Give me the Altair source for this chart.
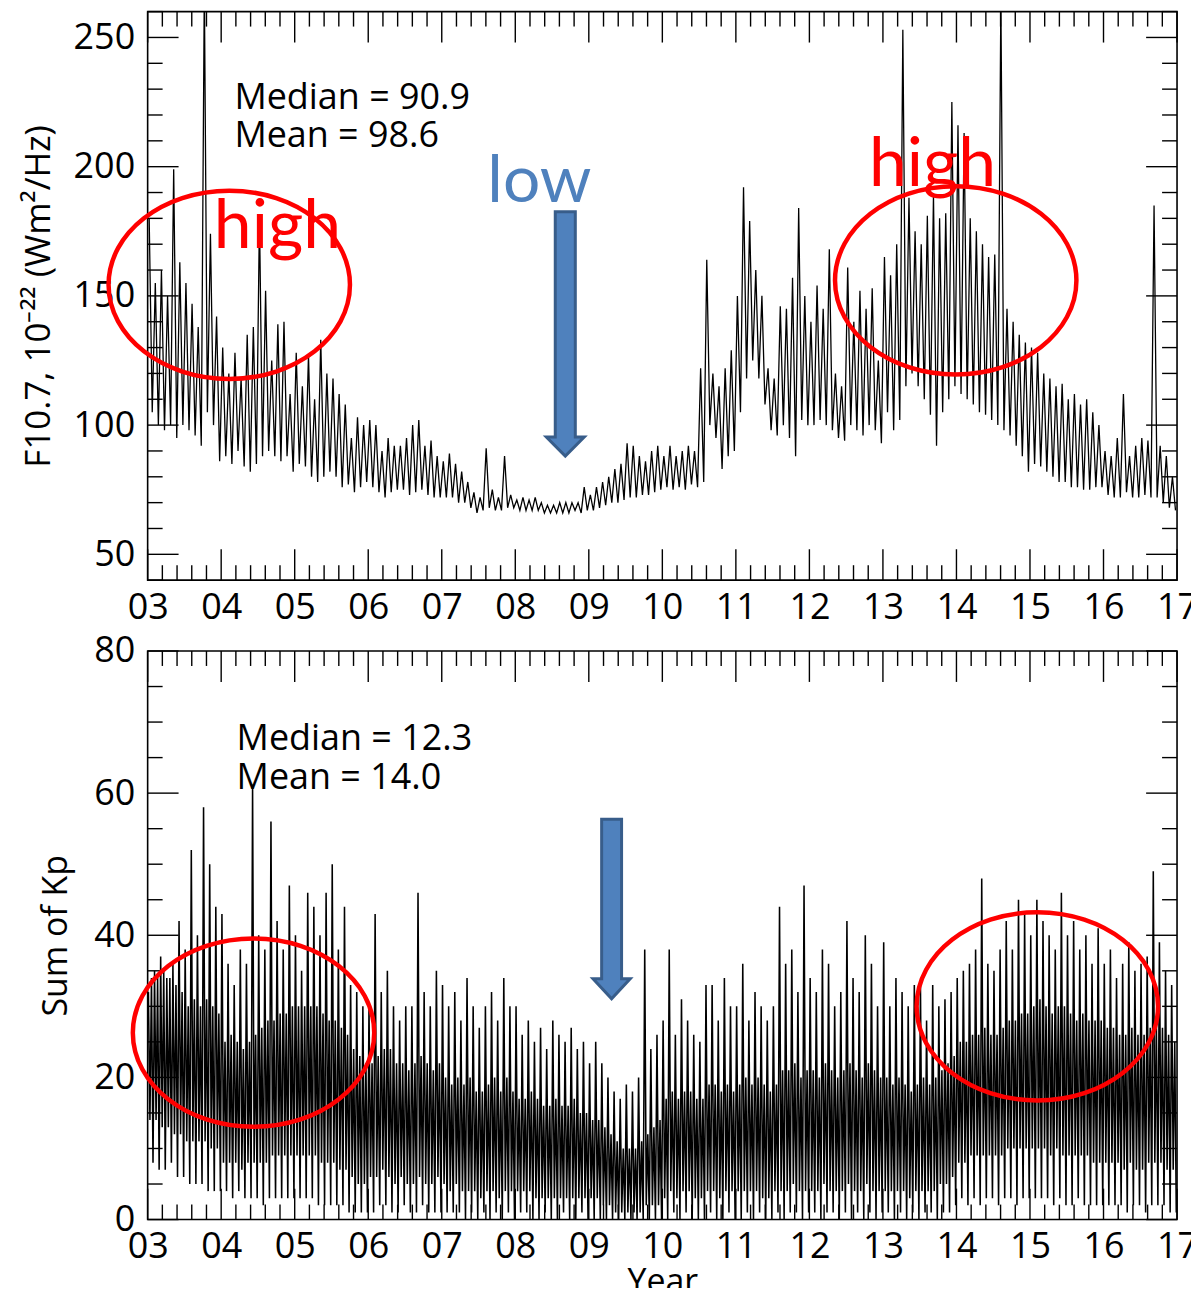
import json
import altair as alt
import pandas as pd

# ---------------- data ----------------
YEAR0 = 2003
YEARS = list(range(2003, 2018))
X_LABELS = ["03", "04", "05", "06", "07", "08", "09", "10", "11", "12", "13", "14", "15", "16", "17"]

# F10.7 monthly maximum and minimum (Jan 2003 .. Dec 2016), one row per year
f107_hi = [
    180, 155, 160, 150, 199, 163, 155, 147, 138, 270, 174, 142,
    130, 120, 128, 118, 135, 138, 181, 152, 125, 139, 140, 112,
    128, 115, 127, 110, 133, 120, 118, 112, 108, 95, 103, 100,
    102, 100, 90, 95, 92, 92, 95, 100, 102, 92, 94, 88,
    86, 89, 85, 82, 78, 74, 72, 91, 75, 72, 88, 73,
    71, 72, 71, 72, 70, 69, 69, 70, 70, 70, 70, 76,
    73, 76, 78, 80, 83, 85, 93, 92, 88, 86, 90, 92,
    88, 92, 88, 90, 92, 90, 122, 164, 120, 115, 122, 129,
    150, 192, 179, 160, 150, 122, 118, 146, 145, 157, 184, 150,
    140, 154, 145, 168, 120, 115, 161, 140, 152, 145, 153, 125,
    165, 158, 170, 253, 188, 175, 170, 181, 189, 180, 182, 225,
    216, 213, 180, 175, 170, 165, 166, 265, 145, 140, 135, 132,
    130, 128, 120, 118, 115, 116, 110, 112, 108, 110, 105, 100,
    90, 88, 95, 112, 88, 92, 95, 94, 185, 92, 88, 80,
]
f107_lo = [
    105, 100, 98, 100, 95, 100, 98, 96, 92, 105, 100, 86,
    88, 85, 90, 84, 82, 85, 88, 90, 88, 86, 88, 82,
    85, 84, 80, 78, 80, 82, 80, 76, 77, 74, 76, 78,
    76, 74, 72, 74, 75, 75, 73, 74, 75, 73, 72, 72,
    72, 72, 70, 70, 68, 66, 67, 68, 67, 67, 68, 68,
    67, 67, 67, 67, 66, 66, 66, 66, 66, 67, 66, 67,
    67, 68, 69, 70, 70, 71, 72, 72, 73, 73, 74, 75,
    76, 75, 76, 75, 77, 76, 78, 100, 95, 83, 88, 90,
    105, 118, 125, 118, 108, 98, 96, 100, 95, 88, 102, 100,
    100, 102, 100, 98, 95, 94, 100, 98, 96, 100, 98, 93,
    105, 98, 102, 115, 120, 115, 110, 104, 92, 105, 110, 115,
    112, 110, 108, 105, 104, 102, 100, 98, 96, 92, 88, 82,
    85, 84, 82, 80, 78, 78, 76, 76, 75, 75, 76, 76,
    73, 72, 72, 74, 72, 72, 73, 72, 72, 70, 68, 67,
]

# Sum of Kp per month: spike maximum, top of dense band, bottom of dense band, spike minimum
kp_max = [
    32, 35, 37, 34, 36, 42, 38, 52, 40, 58, 50, 44,
    43, 36, 33, 38, 36, 61, 40, 38, 56, 42, 38, 47,
    40, 35, 46, 44, 40, 46, 50, 38, 44, 33, 32, 30,
    30, 43, 32, 35, 30, 28, 30, 30, 46, 32, 30, 35,
    33, 30, 32, 28, 34, 30, 27, 30, 32, 28, 34, 30,
    30, 26, 28, 25, 27, 24, 28, 26, 25, 27, 24, 25,
    22, 25, 22, 20, 18, 17, 19, 18, 20, 38, 24, 26,
    28, 38, 26, 31, 28, 26, 25, 33, 33, 28, 34, 30,
    30, 36, 28, 32, 30, 28, 30, 44, 36, 38, 32, 47,
    34, 32, 38, 36, 30, 32, 42, 34, 32, 40, 36, 30,
    39, 30, 34, 32, 30, 33, 33, 28, 33, 30, 31, 32,
    34, 35, 36, 38, 48, 36, 35, 38, 42, 38, 45, 43,
    40, 45, 42, 40, 38, 46, 40, 42, 38, 40, 36, 41,
    36, 38, 34, 36, 39, 35, 36, 37, 49, 39, 35, 33,
]
kp_hi = [
    34, 34, 35, 34, 33, 32, 30, 31, 30, 31, 30, 29,
    25, 26, 25, 24, 25, 26, 27, 28, 28, 29, 29, 30,
    30, 30, 30, 30, 29, 28, 28, 27, 26, 24, 23, 22,
    22, 23, 24, 24, 22, 22, 21, 22, 23, 22, 21, 22,
    20, 19, 20, 19, 20, 18, 18, 19, 20, 18, 20, 18,
    17, 17, 18, 17, 16, 16, 17, 16, 16, 17, 15, 15,
    14, 14, 13, 12, 11, 10, 10, 10, 11, 12, 13, 14,
    17, 18, 17, 18, 18, 17, 17, 19, 19, 18, 19, 18,
    19, 20, 19, 20, 19, 18, 19, 21, 21, 22, 20, 21,
    21, 20, 22, 21, 20, 21, 22, 21, 20, 22, 21, 20,
    20, 19, 20, 19, 18, 19, 20, 19, 20, 21, 22, 23,
    25, 25, 26, 26, 27, 26, 26, 27, 28, 28, 29, 29,
    30, 31, 30, 29, 30, 30, 29, 28, 29, 28, 28, 28,
    27, 27, 26, 26, 27, 26, 26, 27, 28, 27, 26, 25,
]
kp_lo = [
    14, 14, 13, 13, 12, 12, 11, 11, 11, 11, 10, 10,
    8, 8, 8, 7, 8, 8, 8, 8, 9, 9, 9, 9,
    9, 9, 9, 9, 8, 8, 8, 7, 7, 6, 5, 5,
    6, 6, 7, 6, 5, 6, 5, 5, 6, 5, 5, 6,
    5, 4, 5, 4, 4, 4, 3, 4, 4, 3, 4, 4,
    4, 4, 4, 3, 3, 3, 3, 3, 3, 3, 3, 3,
    3, 3, 2, 2, 1, 1, 1, 1, 1, 2, 2, 2,
    3, 4, 3, 4, 4, 3, 3, 4, 4, 3, 4, 4,
    4, 4, 4, 4, 3, 3, 4, 4, 4, 5, 4, 4,
    4, 4, 5, 4, 4, 4, 5, 4, 4, 5, 4, 4,
    4, 4, 4, 4, 3, 4, 4, 4, 4, 5, 5, 6,
    8, 8, 9, 9, 9, 9, 9, 9, 10, 10, 10, 10,
    10, 10, 10, 9, 10, 9, 9, 9, 9, 9, 8, 8,
    8, 8, 8, 7, 8, 7, 7, 8, 8, 8, 7, 7,
]
kp_min = [
    8, 7, 7, 8, 6, 6, 5, 5, 5, 4, 4, 4,
    4, 3, 4, 3, 3, 3, 2, 3, 3, 3, 3, 3,
    3, 3, 3, 2, 2, 2, 2, 2, 1, 1, 1, 1,
    1, 2, 2, 1, 1, 2, 1, 1, 2, 1, 1, 1,
    1, 1, 1, 0, 1, 0, 1, 0, 1, 0, 1, 0,
    1, 1, 0, 0, 1, 0, 0, 1, 0, 0, 1, 0,
    0, 0, 0, 0, 0, 0, 0, 0, 0, 0, 0, 0,
    0, 1, 0, 1, 0, 0, 0, 1, 0, 0, 1, 0,
    0, 1, 0, 1, 0, 0, 1, 0, 1, 1, 0, 1,
    1, 0, 1, 1, 0, 1, 0, 1, 0, 1, 0, 1,
    1, 0, 1, 0, 1, 0, 1, 1, 0, 1, 1, 2,
    3, 2, 3, 2, 3, 3, 2, 3, 3, 2, 3, 3,
    3, 3, 3, 2, 3, 2, 2, 3, 2, 2, 2, 2,
    2, 2, 2, 1, 2, 2, 1, 2, 2, 2, 1, 1,
]

# annotations (data coordinates)
top_stats = ["Median = 90.9", "Mean = 98.6"]
top_stats_t = [2004.18, 2004.18]
top_stats_v = [222.5, 207.8]
bot_stats = ["Median = 12.3", "Mean = 14.0"]
bot_stats_t = [2004.21, 2004.21]
bot_stats_v = [66.1, 60.6]

top_high_text = ["high", "high"]
top_high_t = [2003.90, 2012.81]
top_high_v = [168.5, 192.5]
top_low_text = ["low"]
top_low_t = [2007.62]
top_low_v = [186.3]

top_ell_t = [2004.11, 2013.99]
top_ell_v = [154.3, 156.0]
bot_ell_t = [2004.44, 2015.10]
bot_ell_v = [26.3, 30.0]

top_arrow_t = [2008.68]
top_arrow_v = [135.3]
bot_arrow_t = [2009.31]
bot_arrow_v = [43.7]

# axis tick positions
x_major = YEARS
x_minor = [2003 + i / 5 for i in range(71) if i % 5 != 0]
ytop_major = [50, 100, 150, 200, 250]
ytop_minor = [v for v in range(40, 261, 10) if v % 50 != 0]
ybot_major = [0, 20, 40, 60, 80]
ybot_minor = [v for v in range(0, 81, 5) if v % 20 != 0]

# ---------------- styling ----------------
W, H = 1032, 570
MAJ, MIN = 31, 15
FONT = "Open Sans"
ANN_FONT = "Lato"
BLUE = "#4F81BD"
BLUE_EDGE = "#385D8A"

ELLIPSE = "M -1 0 A 1 0.78 0 1 0 1 0 A 1 0.78 0 1 0 -1 0"
ARROW_TOP = "M -0.082 -1 L 0.082 -1 L 0.082 0.844 L 0.155 0.844 L 0 1 L -0.155 0.844 L -0.082 0.844 Z"
ARROW_BOT = "M -0.111 -1 L 0.111 -1 L 0.111 0.778 L 0.207 0.778 L 0 1 L -0.207 0.778 L -0.111 0.778 Z"


def series(cols, offsets):
    rows = []
    n = len(cols[0])
    for m in range(n):
        for arr, off in zip(cols, offsets):
            rows.append({"t": YEAR0 + (m + off) / 12.0, "v": arr[m]})
    return pd.DataFrame(rows)


xscale = alt.Scale(domain=[2003, 2017], nice=False, zero=False)
label_expr = json.dumps(X_LABELS) + "[datum.value - 2003]"


def x_axis(title):
    kw = dict(values=x_major, labelExpr=label_expr, grid=False, domain=False, ticks=False,
              labelFont=FONT, labelFontSize=36, labelColor="black", labelPadding=10,
              labelFlush=False, labelOverlap=False)
    if title:
        kw.update(title=title, titleFont=FONT, titleFontSize=34, titleFontWeight="normal",
                  titleColor="black", titlePadding=1)
    else:
        kw.update(title=None)
    return alt.Axis(**kw)


def y_axis(values, title, title_x, title_size):
    return alt.Axis(values=values, grid=False, domain=False, ticks=False,
                    labelFont=FONT, labelFontSize=36, labelColor="black", labelPadding=13,
                    labelOverlap=False, title=title, titleFont=FONT, titleFontSize=title_size,
                    titleFontWeight="normal", titleColor="black", titleX=title_x)


def panel(yscale, xax, yax, ymaj, ymin, line_layer_fn, extras):
    X = lambda f: alt.X(f, scale=xscale, axis=xax)
    Y = lambda f: alt.Y(f, scale=yscale, axis=yax)
    layers = [line_layer_fn(X, Y)]
    for vals, L in ((x_major, MAJ), (x_minor, MIN)):
        base = alt.Chart(pd.DataFrame({"p": vals})).mark_rule(color="black", strokeWidth=1.4)
        layers.append(base.encode(x=X("p:Q"), y=alt.value(H), y2=alt.value(H - L)))
        layers.append(base.encode(x=X("p:Q"), y=alt.value(0), y2=alt.value(L)))
    for vals, L in ((ymaj, MAJ), (ymin, MIN)):
        base = alt.Chart(pd.DataFrame({"p": vals})).mark_rule(color="black", strokeWidth=1.4)
        layers.append(base.encode(y=Y("p:Q"), x=alt.value(0), x2=alt.value(L)))
        layers.append(base.encode(y=Y("p:Q"), x=alt.value(W), x2=alt.value(W - L)))
    for e in extras:
        layers.append(e(X, Y))
    return alt.layer(*layers).properties(width=W, height=H)


def text_layer(texts, ts, vs, size, color, font):
    def make(X, Y):
        df = pd.DataFrame({"t": ts, "v": vs, "s": texts})
        return alt.Chart(df).mark_text(align="left", baseline="alphabetic", fontSize=size,
                                       font=font, color=color).encode(
            x=X("t:Q"), y=Y("v:Q"), text="s:N")
    return make


def shape_layer(ts, vs, shape, size, **style):
    def make(X, Y):
        df = pd.DataFrame({"t": ts, "v": vs})
        return alt.Chart(df).mark_point(shape=shape, size=size, opacity=1, **style).encode(
            x=X("t:Q"), y=Y("v:Q"))
    return make


# ---------------- top panel: F10.7 ----------------
ytop = alt.Scale(domain=[40, 260], nice=False, zero=False)
f107 = series([f107_hi, f107_lo], [0.25, 0.75])
top = panel(
    ytop, x_axis(None),
    y_axis(ytop_major, "F10.7, 10\u207b\u00b2\u00b2 (Wm\u00b2/Hz)", -91, 35),
    ytop_major, ytop_minor,
    lambda X, Y: alt.Chart(f107).mark_line(color="black", strokeWidth=1.3, clip=True).encode(
        x=X("t:Q"), y=Y("v:Q")),
    [
        text_layer(top_stats, top_stats_t, top_stats_v, 36, "black", FONT),
        text_layer(top_high_text, top_high_t, top_high_v, 68, "#FF0000", ANN_FONT),
        text_layer(top_low_text, top_low_t, top_low_v, 66, BLUE, ANN_FONT),
        shape_layer(top_ell_t, top_ell_v, ELLIPSE, 242 ** 2, filled=False,
                    stroke="#FF0000", strokeWidth=4.5),
        shape_layer(top_arrow_t, top_arrow_v, ARROW_TOP, 245 ** 2, filled=True,
                    fill=BLUE, stroke=BLUE_EDGE, strokeWidth=3),
    ],
)

# ---------------- bottom panel: Sum of Kp ----------------
ybot = alt.Scale(domain=[0, 80], nice=False, zero=False)
kp = series([kp_max, kp_lo, kp_hi, kp_min], [0.125, 0.375, 0.625, 0.875])
bottom = panel(
    ybot, x_axis("Year"),
    y_axis(ybot_major, "Sum of Kp", -74, 34),
    ybot_major, ybot_minor,
    lambda X, Y: alt.Chart(kp).mark_line(color="black", strokeWidth=1.55, clip=True).encode(
        x=X("t:Q"), y=Y("v:Q")),
    [
        text_layer(bot_stats, bot_stats_t, bot_stats_v, 36, "black", FONT),
        shape_layer(bot_ell_t, bot_ell_v, ELLIPSE, 242 ** 2, filled=False,
                    stroke="#FF0000", strokeWidth=4.5),
        shape_layer(bot_arrow_t, bot_arrow_v, ARROW_BOT, 180 ** 2, filled=True,
                    fill=BLUE, stroke=BLUE_EDGE, strokeWidth=3),
    ],
)

chart = alt.vconcat(top, bottom, spacing=6).properties(
    padding={"left": 13, "top": 0, "right": -8, "bottom": -14}
).configure_view(stroke="black", strokeWidth=1.6)

chart.save("out.html", embed_options={"renderer": "svg", "actions": False})
